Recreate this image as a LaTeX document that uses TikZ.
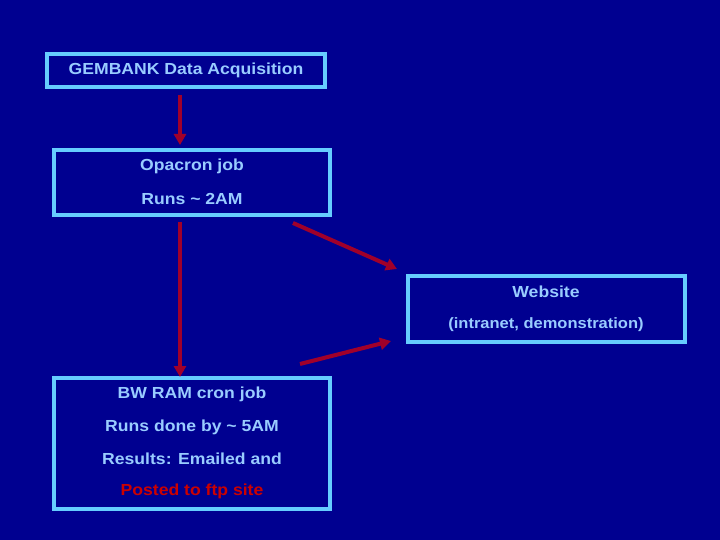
\documentclass[tikz,border=0pt]{standalone}
\usepackage{fontspec}
\setmainfont{Liberation Sans}
\usetikzlibrary{arrows.meta}
\definecolor{bg}{HTML}{000090}
\definecolor{boxblue}{HTML}{66CCFF}
\definecolor{txtblue}{HTML}{99CCFF}
\definecolor{arrred}{HTML}{A0002A}
\definecolor{redtxt}{HTML}{CC0000}
\begin{document}
\begin{tikzpicture}[x=1pt,y=-1pt,
  box/.style={draw=boxblue,line width=4pt},
  lbl/.style={text=txtblue,font=\fontsize{16}{18}\selectfont\bfseries,inner sep=0pt,anchor=center,xscale=1.1},
  arr/.style={draw=arrred,line width=4pt,-{Triangle[length=11pt,width=12pt]}}]
\fill[bg] (0,0) rectangle (720,540);
\useasboundingbox (0,0) rectangle (720,540);
\draw[box] (47,54) rectangle (325,87);
\node[lbl] (t1) at (186,70) {GEMBANK Data Acquisition};
\draw[box] (54,150) rectangle (330,215);
\node[lbl] (t2a) at (192,166) {Opacron job};
\node[lbl] (t2b) at (192,199) {Runs \textasciitilde{} 2AM};
\draw[box] (408,276) rectangle (685,342);
\node[lbl] (t3a) at (546,292) {Website};
\node[lbl,font=\fontsize{15}{18}\selectfont\bfseries] (t3b) at (546,325) {(intranet, demonstration)};
\draw[box] (54,378) rectangle (330,509);
\node[lbl] (t4a) at (192,394) {BW RAM cron job};
\node[lbl] (t4b) at (192,427) {Runs done by \textasciitilde{} 5AM};
\node[lbl] (t4c) at (192,459) {Results: Emailed and};
\node[lbl,text=redtxt] (t4d) at (192,491) {Posted to ftp site};
\coordinate (a1s) at (180,95); \coordinate (a1e) at (180,145);
\coordinate (a2s) at (180,222); \coordinate (a2e) at (180,377);
\coordinate (a3s) at (293,223); \coordinate (a3e) at (397,269);
\coordinate (a4s) at (300,364); \coordinate (a4e) at (391,341);
\draw[arr] (a1s) -- (a1e);
\draw[arr] (a2s) -- (a2e);
\draw[arr] (a3s) -- (a3e);
\draw[arr] (a4s) -- (a4e);
\end{tikzpicture}
\end{document}
